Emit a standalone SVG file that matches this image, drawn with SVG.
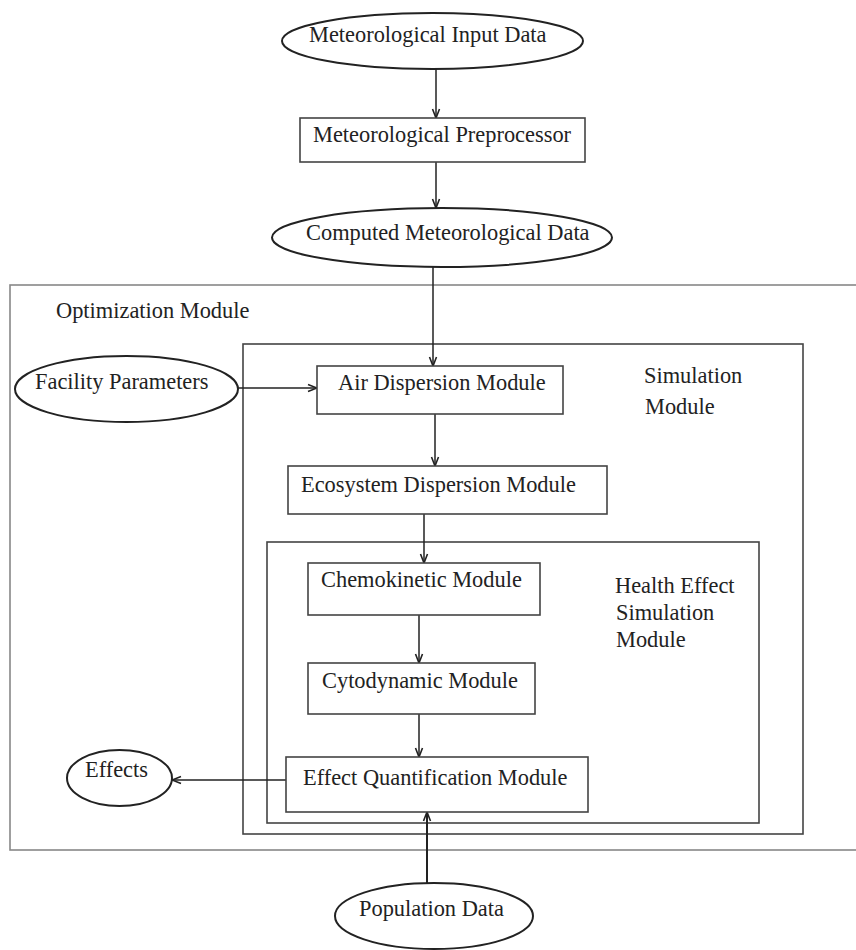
<svg xmlns="http://www.w3.org/2000/svg" width="856" height="950" viewBox="0 0 856 950">
<style>
text{font-family:"Liberation Serif","Times New Roman",serif;font-size:22.4px;fill:#222}
.box{fill:#fff;stroke:#444;stroke-width:1.6}
.ell{fill:#fff;stroke:#222;stroke-width:2}
.cont{fill:none;stroke:#444;stroke-width:1.6}
.opt{fill:none;stroke:#888;stroke-width:1.6}
.conn{fill:none;stroke:#222;stroke-width:1.5;marker-end:url(#arr)}
</style>
<defs>
<marker id="arr" viewBox="0 0 10 10" refX="10" refY="5" markerWidth="10" markerHeight="10" orient="auto" markerUnits="userSpaceOnUse">
<path d="M1,1.5 L10,5 L1,8.5" fill="none" stroke="#222" stroke-width="1.6"/>
</marker>
</defs>
<rect id="optimization-module" class="opt" x="10" y="285" width="860" height="565"/>
<text x="56" y="318">Optimization Module</text>
<g id="simulation-module">
<rect class="cont" x="243" y="344" width="560" height="490"/>
<text x="644" y="383">Simulation</text>
<text x="645" y="414">Module</text>
</g>
<g id="health-effect-module">
<rect class="cont" x="267" y="542" width="492" height="281"/>
<text x="615" y="593">Health Effect</text>
<text x="616" y="620">Simulation</text>
<text x="616" y="647">Module</text>
</g>
<g id="connectors">
<line class="conn" x1="436" y1="69" x2="436" y2="118"/>
<line class="conn" x1="436" y1="162" x2="436" y2="208"/>
<line class="conn" x1="433" y1="267" x2="433" y2="366"/>
<line class="conn" x1="238" y1="388" x2="317" y2="388"/>
<line class="conn" x1="435" y1="414" x2="435" y2="466"/>
<line class="conn" x1="424" y1="514" x2="424" y2="563"/>
<line class="conn" x1="419" y1="615" x2="419" y2="663"/>
<line class="conn" x1="419" y1="714" x2="419" y2="757"/>
<line class="conn" x1="286" y1="780" x2="172" y2="780"/>
<line class="conn" x1="427" y1="883" x2="427" y2="812" style="stroke-width:2"/>
</g>
<g id="meteorological-input-data">
<ellipse class="ell" cx="432.5" cy="41" rx="150.5" ry="28"/>
<text x="309" y="42">Meteorological Input Data</text>
</g>
<g id="meteorological-preprocessor">
<rect class="box" x="300" y="118" width="285" height="44"/>
<text x="313" y="142">Meteorological Preprocessor</text>
</g>
<g id="computed-meteorological-data">
<ellipse class="ell" cx="442" cy="237.5" rx="170" ry="29.5"/>
<text x="306" y="240">Computed Meteorological Data</text>
</g>
<g id="facility-parameters">
<ellipse class="ell" cx="126.5" cy="389" rx="111.5" ry="33"/>
<text x="35" y="389">Facility Parameters</text>
</g>
<g id="air-dispersion-module">
<rect class="box" x="317" y="366" width="246" height="48"/>
<text x="338" y="390">Air Dispersion Module</text>
</g>
<g id="ecosystem-dispersion-module">
<rect class="box" x="288" y="466" width="319" height="48"/>
<text x="301" y="492">Ecosystem Dispersion Module</text>
</g>
<g id="chemokinetic-module">
<rect class="box" x="308" y="563" width="232" height="52"/>
<text x="321" y="587">Chemokinetic Module</text>
</g>
<g id="cytodynamic-module">
<rect class="box" x="308" y="663" width="227" height="51"/>
<text x="322" y="688">Cytodynamic Module</text>
</g>
<g id="effect-quantification-module">
<rect class="box" x="286" y="757" width="302" height="55"/>
<text x="303" y="785">Effect Quantification Module</text>
</g>
<g id="effects">
<ellipse class="ell" cx="119.5" cy="778" rx="52.5" ry="28"/>
<text x="85" y="777">Effects</text>
</g>
<g id="population-data">
<ellipse class="ell" cx="434" cy="916" rx="99" ry="33"/>
<text x="359" y="916">Population Data</text>
</g>
</svg>
